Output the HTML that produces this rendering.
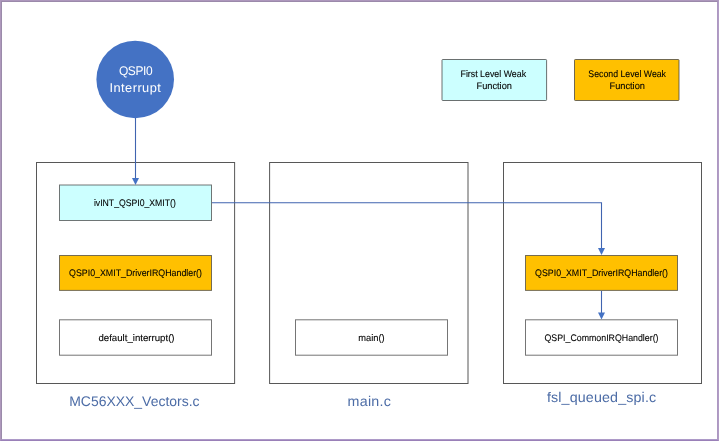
<!DOCTYPE html>
<html>
<head>
<meta charset="utf-8">
<title>QSPI0 Interrupt weak functions</title>
<style>
html,body{margin:0;padding:0;}
body{width:719px;height:441px;background:#fff;position:relative;overflow:hidden;font-family:"Liberation Sans",sans-serif;}
#frame{position:absolute;left:0;top:0;width:717px;height:439px;border:1px solid;border-color:#ad97bc #b19cc5 #9a80b8 #ae98bc;}
#frame2{position:absolute;left:1px;top:1px;width:715px;height:437px;border:1px solid;border-color:#9b89aa #ad98c2 #ad9ac8 #9b8baa;}
svg{position:absolute;left:0;top:0;}
.l{text-rendering:geometricPrecision;position:absolute;width:300px;text-align:center;white-space:nowrap;will-change:transform;}
.t{display:inline-block;transform-origin:center;white-space:nowrap;}
.b{font-size:9.5px;line-height:12px;height:12px;color:#000;-webkit-text-stroke:0.1px #000;}
.c{font-size:12.6px;line-height:17px;height:17px;color:#fff;}
.g{font-size:14px;line-height:20px;height:20px;color:#4c6ca6;}
</style>
</head>
<body>
<div id="frame"></div><div id="frame2"></div>
<svg width="719" height="441" viewBox="0 0 719 441">
  <circle cx="135.2" cy="79.45" r="38.8" fill="#4472c4"/>
  <rect x="36.50" y="162.50" width="198.10" height="221.00" fill="none" stroke="#3a3a3a" stroke-opacity="0.85" stroke-width="1"/>
  <rect x="269.60" y="162.50" width="198.40" height="221.00" fill="none" stroke="#3a3a3a" stroke-opacity="0.85" stroke-width="1"/>
  <rect x="503.50" y="162.50" width="198.00" height="221.00" fill="none" stroke="#3a3a3a" stroke-opacity="0.85" stroke-width="1"/>
  <rect x="442.00" y="59.50" width="104.60" height="41.00" fill="#ccffff" stroke="#404040" stroke-opacity="0.75" stroke-width="1" rx="0.8"/>
  <rect x="574.50" y="59.50" width="104.50" height="41.00" fill="#ffc000" stroke="#404040" stroke-opacity="0.75" stroke-width="1" rx="0.8"/>
  <rect x="59.50" y="185.00" width="152.00" height="35.50" fill="#ccffff" stroke="#404040" stroke-opacity="0.72" stroke-width="1"/>
  <rect x="59.50" y="255.50" width="152.00" height="34.90" fill="#ffc000" stroke="#404040" stroke-opacity="0.72" stroke-width="1"/>
  <rect x="59.50" y="319.80" width="152.00" height="35.40" fill="#ffffff" stroke="#404040" stroke-opacity="0.72" stroke-width="1"/>
  <rect x="295.50" y="319.80" width="152.00" height="35.40" fill="#ffffff" stroke="#404040" stroke-opacity="0.72" stroke-width="1"/>
  <rect x="525.50" y="255.50" width="152.00" height="34.90" fill="#ffc000" stroke="#404040" stroke-opacity="0.72" stroke-width="1"/>
  <rect x="525.50" y="319.80" width="152.00" height="35.40" fill="#ffffff" stroke="#404040" stroke-opacity="0.72" stroke-width="1"/>
  <g stroke="#4064b0" stroke-width="1.1" fill="none">
    <path d="M135.5 118 V179"/>
    <path d="M212 202.7 H601.5 V249.5"/>
    <path d="M601.5 291 V313.5"/>
  </g>
  <g fill="#4472c4">
    <path d="M132.00 178.00 h7.00 l-3.50 7.00 z"/>
    <path d="M598.00 248.00 h7.00 l-3.50 7.00 z"/>
    <path d="M598.00 312.60 h7.00 l-3.50 7.00 z"/>
  </g>
</svg>
<div class="l c" style="left:-14.50px;top:63.00px"><span class="t" style="transform:scaleX(0.9500);letter-spacing:-0.409px;margin-right:0.409px">QSPI0</span></div>
<div class="l c" style="left:-14.90px;top:80.00px"><span class="t" style="transform:scaleX(1.0200);letter-spacing:0.428px;margin-right:-0.428px">Interrupt</span></div>
<div class="l b" style="left:343.20px;top:69.00px"><span class="t" style="transform:scaleX(0.9287)">First Level Weak</span></div>
<div class="l b" style="left:344.40px;top:81.00px"><span class="t" style="transform:scaleX(0.9724)">Function</span></div>
<div class="l b" style="left:476.60px;top:69.00px"><span class="t" style="transform:scaleX(0.9212)">Second Level Weak</span></div>
<div class="l b" style="left:476.70px;top:81.00px"><span class="t" style="transform:scaleX(0.9724)">Function</span></div>
<div class="l b" style="left:-15.10px;top:198.00px"><span class="t" style="transform:scaleX(0.9126)">ivINT_QSPI0_XMIT()</span></div>
<div class="l b" style="left:-13.80px;top:268.00px"><span class="t" style="transform:scaleX(0.9291)">QSPI0_XMIT_DriverIRQHandler()</span></div>
<div class="l b" style="left:-14.20px;top:333.00px"><span class="t" style="transform:scaleX(1.0161)">default_interrupt()</span></div>
<div class="l b" style="left:221.00px;top:333.00px"><span class="t" style="transform:scaleX(0.9804)">main()</span></div>
<div class="l b" style="left:451.90px;top:268.00px"><span class="t" style="transform:scaleX(0.9291)">QSPI0_XMIT_DriverIRQHandler()</span></div>
<div class="l b" style="left:452.30px;top:333.00px"><span class="t" style="transform:scaleX(0.9270)">QSPI_CommonIRQHandler()</span></div>
<div class="l g" style="left:-15.80px;top:391.00px"><span class="t" style="transform:scaleX(0.9970)">MC56XXX_Vectors.c</span></div>
<div class="l g" style="left:218.60px;top:391.00px"><span class="t" style="transform:scaleX(1.0200);letter-spacing:0.249px;margin-right:-0.249px">main.c</span></div>
<div class="l g" style="left:452.00px;top:387.00px"><span class="t" style="transform:scaleX(1.0200);letter-spacing:0.134px;margin-right:-0.134px">fsl_queued_spi.c</span></div>
</body>
</html>
